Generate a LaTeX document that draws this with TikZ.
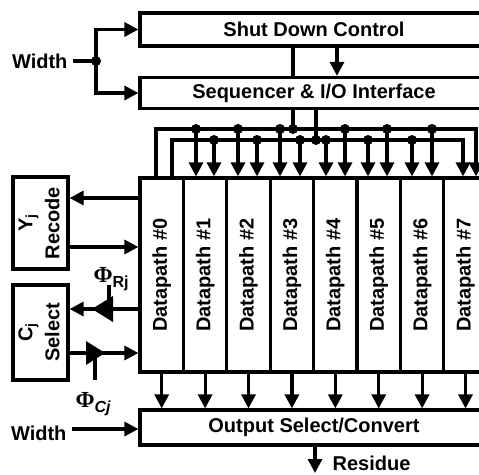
\documentclass[tikz,border=0pt]{standalone}
\usepackage{fontspec}
\usepackage{graphicx}
\setmainfont{Liberation Sans}
\newfontfamily\phifont{Liberation Serif}
\usetikzlibrary{arrows.meta}
\begin{document}
\begin{tikzpicture}[x=1pt,y=-1pt,
  line width=3.2pt,
  lbl/.style={inner sep=0pt, font=\fontsize{20}{27}\selectfont\bfseries},
  box/.style={lbl, draw, line width=3.2pt},
  arr/.style={-{Triangle[length=14pt,width=14pt]}},
  dot/.style={circle, fill, inner sep=0pt, minimum size=10pt},
]
\useasboundingbox (0,0) rectangle (479,474);
\clip (0,0) rectangle (479,474);

% main horizontal blocks
\node[box, minimum width=348pt, minimum height=33pt] (shut) at (314,29.5) {Shut Down Control};
\node[box, minimum width=348pt, minimum height=31pt] (seq) at (314,93) {Sequencer \& I/O Interface};
\node[box, minimum width=348pt, minimum height=35pt] (out) at (314,427.5) {Output Select/Convert};

% datapath columns
\foreach \k in {0,...,7}
  \node[box, minimum width=43.4pt, minimum height=194pt] (dp\k) at ({140+43.4*(\k+0.5)},275)
    {\rotatebox{90}{Datapath \#\k}};

% side blocks
\node[box, minimum width=55pt, minimum height=92pt] (recode) at (40.5,223)
  {\rotatebox{90}{\begin{tabular}{@{}c@{}}Y\textsubscript{j}\\Recode\end{tabular}}};
\node[box, minimum width=55pt, minimum height=95pt] (select) at (40.5,332.5)
  {\rotatebox{90}{\begin{tabular}{@{}c@{}}C\textsubscript{j}\\Select\end{tabular}}};

% width input fanning out to the two control blocks
\node[lbl, anchor=east] (w1) at (69,61) {Width};
\coordinate (wa) at (73,61);
\coordinate (wj) at (96,61);
\draw (wa) -- (wj);
\node[dot] at (wj) {};
\draw[arr] (wj) |- (shut.west);
\draw[arr] (wj) |- (seq.west);

% shut down -> sequencer
\coordinate (sA) at (293,0);
\coordinate (sB) at (337,0);
\coordinate (sC) at (316,0);
\draw (shut.south -| sA) -- (seq.north -| sA);
\draw[arr] (shut.south -| sB) -- (seq.north -| sB);

% two control buses
\coordinate (ob) at (0,129);
\coordinate (ib) at (0,140);
\coordinate (oL) at (156,129);
\coordinate (oR) at (476,129);
\coordinate (iL) at (172,140);
\coordinate (iR) at (463,140);
\draw[arr] (dp0.north -| oL) -- (oL) -- (oR) -- (dp7.north -| oR);
\draw[arr] (dp0.north -| iL) -- (iL) -- (iR) -- (dp7.north -| iR);

% sequencer drives the buses
\draw (seq.south -| sA) -- (ob -| sA);
\node[dot] at (ob -| sA) {};
\draw (seq.south -| sC) -- (ib -| sC);
\node[dot] at (ib -| sC) {};

% bus taps into each datapath
\foreach \x/\k in {196/1,238/2,280/3,345/4,387/5,432/6} {
  \coordinate (t) at (\x,0);
  \draw[arr] (ob -| t) -- (dp\k.north -| t);
  \node[dot] at (ob -| t) {};
}
\foreach \x/\k in {214/1,257/2,300/3,326/4,368/5,412/6} {
  \coordinate (t) at (\x,0);
  \draw[arr] (ib -| t) -- (dp\k.north -| t);
  \node[dot] at (ib -| t) {};
}

% datapaths -> output
\foreach \k in {0,...,7}
  \draw[arr] (dp\k.south) -- (out.north -| dp\k.south);

% output width and residue
\node[lbl, anchor=east] (w2) at (68,433) {Width};
\coordinate (wb) at (72,429);
\draw[arr] (wb) -- (out.west |- wb);
\coordinate (res) at (315,473);
\draw[arr] (out.south -| res) -- (res);
\node[lbl, anchor=west] (reslbl) at (331,463) {Residue};

% recode links
\coordinate (ya) at (0,198);
\coordinate (yb) at (0,247);
\draw[arr] (dp0.west |- ya) -- (recode.east |- ya);
\draw[arr] (recode.east |- yb) -- (dp0.west |- yb);

% select links with clocked buffers
\coordinate (ca) at (0,309);
\coordinate (cb) at (0,353);
\draw[arr] (dp0.west |- ca) -- (select.east |- ca);
\fill (92,309) -- (113,296) -- (113,322) -- cycle;
\draw (109,285) -- (109,302);
\draw[arr] (select.east |- cb) -- (dp0.west |- cb);
\fill (105,353) -- (86,341) -- (86,365) -- cycle;
\draw (95,358) -- (95,380);

% clock labels
\node[lbl, anchor=base west] (phir) at (92,282)
  {{\phifont\fontsize{23}{24}\selectfont Φ}\raisebox{-5pt}{\fontsize{16}{16}\selectfont Rj}};
\node[lbl, anchor=base west] (phic) at (74,407)
  {{\phifont\fontsize{23}{24}\selectfont Φ}\raisebox{-5pt}{\fontsize{16}{16}\selectfont\itshape Cj}};
\end{tikzpicture}
\end{document}
